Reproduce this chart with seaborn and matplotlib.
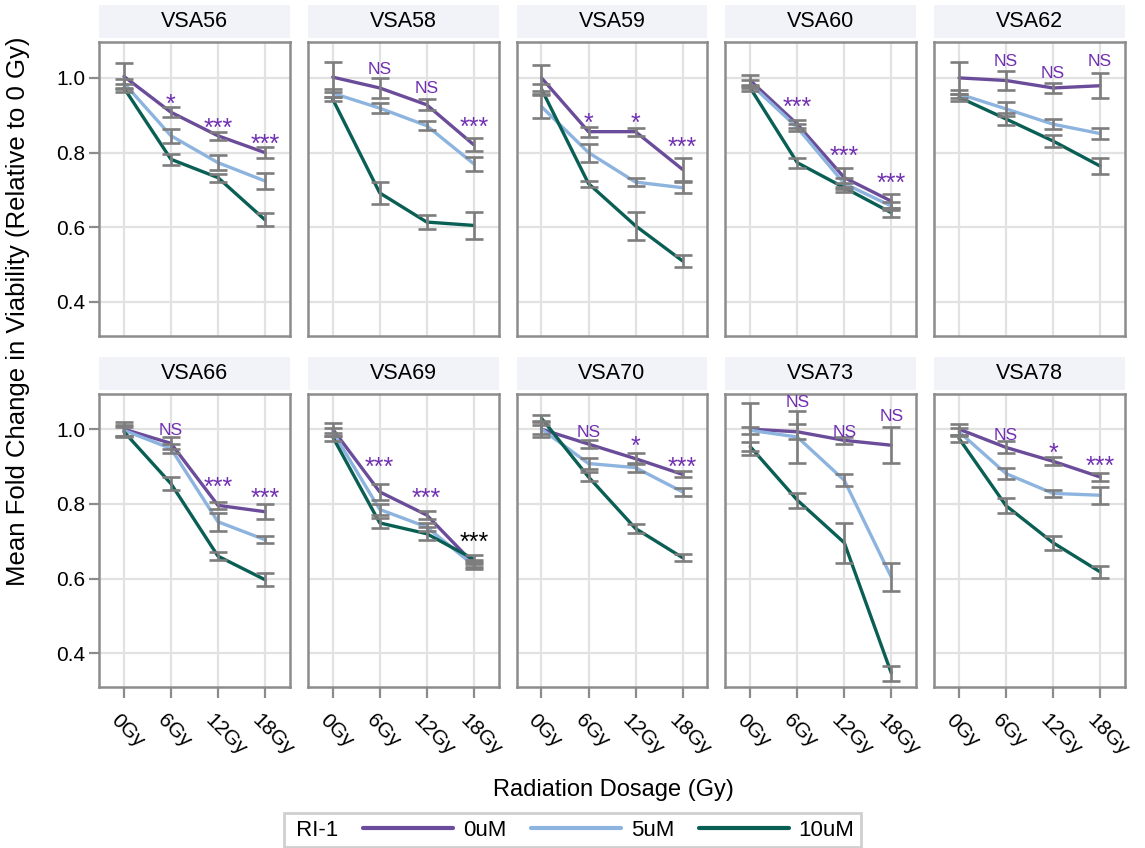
import numpy as np
import pandas as pd
import seaborn as sns
import matplotlib.pyplot as plt
from matplotlib.lines import Line2D
from matplotlib.patches import Rectangle
from matplotlib.transforms import ScaledTranslation

# -------------------------------
# DATA
# -------------------------------
cell_lines = ["VSA56", "VSA58", "VSA59", "VSA60", "VSA62",
              "VSA66", "VSA69", "VSA70", "VSA73", "VSA78"]
doses = ["0Gy", "6Gy", "12Gy", "18Gy"]
concentrations = ["0uM", "5uM", "10uM"]

mean_0uM = [
    [1.004, 0.908, 0.845, 0.800],
    [1.002, 0.973, 0.928, 0.821],
    [1.000, 0.856, 0.856, 0.755],
    [0.993, 0.876, 0.733, 0.670],
    [1.000, 0.993, 0.973, 0.979],
    [1.000, 0.962, 0.796, 0.779],
    [1.000, 0.832, 0.770, 0.640],
    [1.000, 0.960, 0.921, 0.879],
    [1.000, 0.993, 0.970, 0.957],
    [1.000, 0.951, 0.914, 0.872],
]
err_0uM = [
    [0.035, 0.013, 0.011, 0.014],
    [0.040, 0.027, 0.015, 0.018],
    [0.035, 0.013, 0.011, 0.030],
    [0.015, 0.010, 0.025, 0.018],
    [0.042, 0.025, 0.013, 0.033],
    [0.020, 0.016, 0.010, 0.020],
    [0.017, 0.022, 0.010, 0.010],
    [0.020, 0.010, 0.015, 0.008],
    [0.070, 0.020, 0.009, 0.048],
    [0.015, 0.016, 0.011, 0.011],
]
mean_5uM = [
    [0.986, 0.845, 0.773, 0.724],
    [0.959, 0.919, 0.872, 0.770],
    [0.923, 0.800, 0.721, 0.706],
    [0.984, 0.867, 0.717, 0.657],
    [0.957, 0.917, 0.876, 0.851],
    [0.997, 0.948, 0.752, 0.704],
    [0.993, 0.785, 0.738, 0.635],
    [1.000, 0.908, 0.897, 0.832],
    [0.997, 0.979, 0.863, 0.604],
    [0.993, 0.881, 0.828, 0.823],
]
err_5uM = [
    [0.012, 0.018, 0.020, 0.021],
    [0.011, 0.014, 0.012, 0.018],
    [0.031, 0.024, 0.011, 0.015],
    [0.010, 0.010, 0.015, 0.012],
    [0.010, 0.018, 0.014, 0.014],
    [0.015, 0.013, 0.024, 0.009],
    [0.010, 0.015, 0.012, 0.010],
    [0.012, 0.016, 0.012, 0.010],
    [0.010, 0.070, 0.016, 0.038],
    [0.010, 0.014, 0.009, 0.023],
]
mean_10uM = [
    [0.973, 0.782, 0.733, 0.620],
    [0.943, 0.692, 0.614, 0.605],
    [0.970, 0.717, 0.604, 0.510],
    [0.973, 0.773, 0.706, 0.639],
    [0.948, 0.890, 0.831, 0.764],
    [0.993, 0.854, 0.660, 0.597],
    [0.979, 0.749, 0.720, 0.652],
    [1.029, 0.872, 0.734, 0.656],
    [0.953, 0.810, 0.696, 0.347],
    [0.975, 0.795, 0.696, 0.618],
]
err_10uM = [
    [0.010, 0.015, 0.011, 0.017],
    [0.006, 0.029, 0.019, 0.037],
    [0.013, 0.008, 0.037, 0.017],
    [0.008, 0.013, 0.012, 0.012],
    [0.010, 0.016, 0.017, 0.022],
    [0.012, 0.017, 0.011, 0.017],
    [0.010, 0.013, 0.018, 0.012],
    [0.008, 0.012, 0.011, 0.010],
    [0.012, 0.020, 0.054, 0.020],
    [0.010, 0.020, 0.019, 0.016],
]
# significance marks vs 0uM at 6, 12, 18 Gy and the height they sit at
sig_labels = [
    ["*", "***", "***"],
    ["NS", "NS", "***"],
    ["*", "*", "***"],
    ["***", "***", "***"],
    ["NS", "NS", "NS"],
    ["NS", "***", "***"],
    ["***", "***", "***"],
    ["NS", "*", "***"],
    ["NS", "NS", "NS"],
    ["NS", "*", "***"],
]
sig_height = [
    [0.948, 0.883, 0.839],
    [1.026, 0.975, 0.885],
    [0.896, 0.896, 0.831],
    [0.939, 0.809, 0.735],
    [1.048, 1.017, 1.048],
    [1.002, 0.863, 0.832],
    [0.917, 0.832, 0.716],
    [0.997, 0.972, 0.917],
    [1.076, 0.997, 1.038],
    [0.988, 0.954, 0.919],
]
# one label drawn in black instead of purple
black_labels = [("VSA69", "18Gy")]

palette = {"0uM": "#6b4c9a", "5uM": "#8db4df", "10uM": "#0a5f55"}
sig_color = "#7030b0"

# -------------------------------
# LONG TABLE
# -------------------------------
rows = []
for c, (means, errs) in zip(concentrations,
                            [(mean_0uM, err_0uM), (mean_5uM, err_5uM), (mean_10uM, err_10uM)]):
    for k, line in enumerate(cell_lines):
        for i, d in enumerate(doses):
            rows.append({"cell": line, "conc": c, "dose": d, "x": i,
                         "mean": means[k][i], "err": errs[k][i]})
df = pd.DataFrame(rows)

# -------------------------------
# PLOT
# -------------------------------
sns.set_theme(style="white")
plt.rcParams["font.family"] = ["Liberation Sans", "DejaVu Sans"]
plt.rcParams["text.color"] = "black"

fig, axes = plt.subplots(2, 5, figsize=(11.45, 8.48), dpi=100, sharex=True, sharey=True)
fig.subplots_adjust(left=0.0865, right=0.9825, bottom=0.19, top=0.95,
                    wspace=0.094, hspace=0.198)

for k, (ax, line) in enumerate(zip(axes.flat, cell_lines)):
    sub = df[df["cell"] == line]
    sns.lineplot(data=sub, x="x", y="mean", hue="conc", hue_order=concentrations,
                 palette=palette, linewidth=2.4, legend=False, ax=ax,
                 errorbar=None, sort=False, zorder=2)
    ax.errorbar(sub["x"], sub["mean"], yerr=sub["err"], fmt="none",
                ecolor="#7d7d7d", elinewidth=1.9, capsize=6.5, capthick=1.9, zorder=3)

    for j, lab in enumerate(sig_labels[k]):
        i = j + 1
        col = "black" if (line, doses[i]) in black_labels else sig_color
        if lab == "NS":
            size, drop = 12.5, 4.5
        else:
            size, drop = 18, 10.3
        ax.annotate(lab, (i, sig_height[k][j]), xytext=(0, -drop),
                    textcoords="offset points", ha="center", va="baseline",
                    fontsize=size, color=col, zorder=4, annotation_clip=False)

    ax.set_xlim(-0.53, 3.53)
    ax.set_ylim(0.31, 1.095)
    ax.set_xticks(range(len(doses)))
    ax.set_xticklabels(doses)
    ax.set_yticks([0.4, 0.6, 0.8, 1.0])
    ax.set_yticklabels(["0.4", "0.6", "0.8", "1.0"])
    ax.set_xlabel("")
    ax.set_ylabel("")
    ax.grid(True, color="#e2e2e2", linewidth=1.6)
    ax.set_axisbelow(True)
    for s in ax.spines.values():
        s.set_color("#8c8c8c")
        s.set_linewidth(1.8)

    row, colm = divmod(k, 5)
    ax.tick_params(axis="x", bottom=(row == 1), labelbottom=(row == 1),
                   length=8, width=1.6, color="#8c8c8c", pad=9,
                   labelsize=15, labelcolor="black")
    ax.tick_params(axis="y", left=(colm == 0), labelleft=(colm == 0),
                   length=7, width=1.6, color="#8c8c8c", pad=3,
                   labelsize=15, labelcolor="black")
    if row == 1:
        shift = ScaledTranslation(-17 / 100, 0, fig.dpi_scale_trans)
        for t in ax.get_xticklabels():
            t.set_rotation(-45)
            t.set_ha("left")
            t.set_va("top")
            t.set_transform(t.get_transform() + shift)

    # facet strip
    ax.add_patch(Rectangle((0, 1.014), 1, 0.112, transform=ax.transAxes,
                           facecolor="#f2f3f8", edgecolor="none", clip_on=False))
    ax.text(0.5, 1.07, line, transform=ax.transAxes, ha="center", va="center",
            fontsize=15.5, color="black")

fig.text(0.016, 0.633, "Mean Fold Change in Viability (Relative to 0 Gy)",
         rotation=90, ha="center", va="center", fontsize=18.5)
fig.text(0.536, 0.068, "Radiation Dosage (Gy)", ha="center", va="center", fontsize=17)

handles = [Line2D([], [], color=palette[c], linewidth=3) for c in concentrations]
leg = fig.legend(handles, concentrations, title=" RI-1", ncol=3, loc="center",
                 bbox_to_anchor=(0.5, 0.021), fontsize=16, title_fontsize=16,
                 handlelength=4.05, handletextpad=0.45, columnspacing=1.1,
                 frameon=True, fancybox=False, edgecolor="#c4c4c4", borderpad=0.3)
leg.get_frame().set_linewidth(2)
# put the title to the left of the entries
box = leg.get_children()[0]
title_box, handle_box = box.get_children()[0], box.get_children()[1]
box._children = [handle_box]
handle_box._children = [title_box] + handle_box.get_children()

fig.savefig("out.png", dpi=100)
